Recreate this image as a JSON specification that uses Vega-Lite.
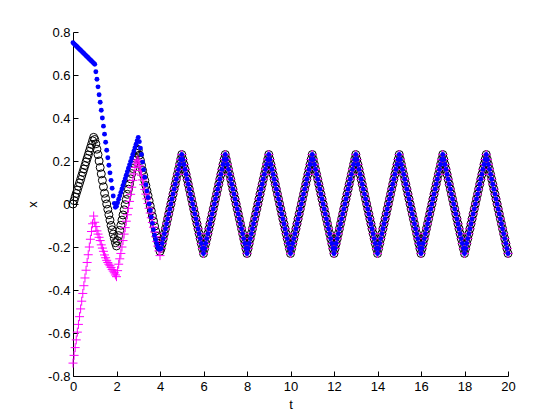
{
"$schema": "https://vega.github.io/schema/vega-lite/v6.json",
"width": 435, "height": 344,
"autosize": {"type": "none"},
"padding": {"left": 73, "top": 32, "right": 52, "bottom": 44},
"background": "white",
"config": {"view": {"stroke": null}, "axis": {"domainColor": "#000", "tickColor": "#000", "labelColor": "#000", "titleColor": "#000", "labelFont": "Liberation Sans", "titleFont": "Liberation Sans", "labelFontSize": 13, "titleFontSize": 13, "titleFontWeight": "normal", "grid": false, "tickSize": -5, "domainWidth": 1, "tickWidth": 1, "labelOverlap": false}},
"data": {"values": [
{"t":0,"k":0,"b":0.75,"m":-0.74},
{"t":0.05,"k":0.016,"b":0.745,"m":-0.704},
{"t":0.1,"k":0.033,"b":0.74,"m":-0.668},
{"t":0.15,"k":0.049,"b":0.735,"m":-0.632},
{"t":0.2,"k":0.065,"b":0.73,"m":-0.596},
{"t":0.25,"k":0.082,"b":0.725,"m":-0.56},
{"t":0.3,"k":0.098,"b":0.72,"m":-0.524},
{"t":0.35,"k":0.114,"b":0.715,"m":-0.488},
{"t":0.4,"k":0.131,"b":0.71,"m":-0.452},
{"t":0.45,"k":0.147,"b":0.705,"m":-0.416},
{"t":0.5,"k":0.163,"b":0.7,"m":-0.38},
{"t":0.55,"k":0.179,"b":0.695,"m":-0.344},
{"t":0.6,"k":0.196,"b":0.69,"m":-0.308},
{"t":0.65,"k":0.212,"b":0.685,"m":-0.272},
{"t":0.7,"k":0.228,"b":0.68,"m":-0.236},
{"t":0.75,"k":0.245,"b":0.675,"m":-0.2},
{"t":0.8,"k":0.261,"b":0.67,"m":-0.164},
{"t":0.85,"k":0.277,"b":0.665,"m":-0.128},
{"t":0.9,"k":0.294,"b":0.66,"m":-0.092},
{"t":0.95,"k":0.31,"b":0.655,"m":-0.056},
{"t":1,"k":0.3,"b":0.65,"m":-0.085},
{"t":1.05,"k":0.28,"b":0.615,"m":-0.105},
{"t":1.1,"k":0.255,"b":0.58,"m":-0.125},
{"t":1.15,"k":0.23,"b":0.545,"m":-0.14},
{"t":1.2,"k":0.2,"b":0.508,"m":-0.155},
{"t":1.25,"k":0.17,"b":0.473,"m":-0.17},
{"t":1.3,"k":0.14,"b":0.436,"m":-0.19},
{"t":1.35,"k":0.11,"b":0.4,"m":-0.205},
{"t":1.4,"k":0.08,"b":0.362,"m":-0.22},
{"t":1.45,"k":0.05,"b":0.325,"m":-0.237},
{"t":1.5,"k":0.025,"b":0.287,"m":-0.25},
{"t":1.55,"k":0,"b":0.25,"m":-0.262},
{"t":1.6,"k":-0.025,"b":0.215,"m":-0.272},
{"t":1.65,"k":-0.05,"b":0.18,"m":-0.28},
{"t":1.7,"k":-0.075,"b":0.145,"m":-0.287},
{"t":1.75,"k":-0.1,"b":0.11,"m":-0.295},
{"t":1.8,"k":-0.12,"b":0.073,"m":-0.305},
{"t":1.85,"k":-0.14,"b":0.037,"m":-0.312},
{"t":1.9,"k":-0.16,"b":0.003,"m":-0.32},
{"t":1.95,"k":-0.18,"b":-0.015,"m":-0.33},
{"t":2,"k":-0.195,"b":-0.01,"m":-0.338},
{"t":2.05,"k":-0.171,"b":0.006,"m":-0.31},
{"t":2.1,"k":-0.147,"b":0.022,"m":-0.28},
{"t":2.15,"k":-0.123,"b":0.038,"m":-0.255},
{"t":2.2,"k":-0.099,"b":0.054,"m":-0.23},
{"t":2.25,"k":-0.075,"b":0.07,"m":-0.2},
{"t":2.3,"k":-0.051,"b":0.086,"m":-0.17},
{"t":2.35,"k":-0.027,"b":0.102,"m":-0.14},
{"t":2.4,"k":-0.003,"b":0.118,"m":-0.11},
{"t":2.45,"k":0.021,"b":0.134,"m":-0.08},
{"t":2.5,"k":0.045,"b":0.15,"m":-0.05},
{"t":2.55,"k":0.069,"b":0.166,"m":-0.02},
{"t":2.6,"k":0.093,"b":0.182,"m":0.012},
{"t":2.65,"k":0.117,"b":0.198,"m":0.045},
{"t":2.7,"k":0.141,"b":0.214,"m":0.078},
{"t":2.75,"k":0.165,"b":0.23,"m":0.11},
{"t":2.8,"k":0.189,"b":0.246,"m":0.14},
{"t":2.85,"k":0.213,"b":0.262,"m":0.17},
{"t":2.9,"k":0.237,"b":0.278,"m":0.19},
{"t":2.95,"k":0.255,"b":0.294,"m":0.205},
{"t":3,"k":0.25,"b":0.31,"m":0.2},
{"t":3.05,"k":0.227,"b":0.29,"m":0.178},
{"t":3.1,"k":0.203,"b":0.26,"m":0.156},
{"t":3.15,"k":0.18,"b":0.23,"m":0.134},
{"t":3.2,"k":0.156,"b":0.195,"m":0.112},
{"t":3.25,"k":0.133,"b":0.16,"m":0.09},
{"t":3.3,"k":0.109,"b":0.125,"m":0.068},
{"t":3.35,"k":0.086,"b":0.09,"m":0.046},
{"t":3.4,"k":0.062,"b":0.06,"m":0.024},
{"t":3.45,"k":0.039,"b":0.03,"m":0.002},
{"t":3.5,"k":0.015,"b":0,"m":-0.02},
{"t":3.55,"k":-0.009,"b":-0.03,"m":-0.042},
{"t":3.6,"k":-0.032,"b":-0.06,"m":-0.064},
{"t":3.65,"k":-0.056,"b":-0.09,"m":-0.086},
{"t":3.7,"k":-0.079,"b":-0.12,"m":-0.108},
{"t":3.75,"k":-0.103,"b":-0.145,"m":-0.13},
{"t":3.8,"k":-0.126,"b":-0.165,"m":-0.152},
{"t":3.85,"k":-0.15,"b":-0.185,"m":-0.174},
{"t":3.9,"k":-0.173,"b":-0.2,"m":-0.196},
{"t":3.95,"k":-0.197,"b":-0.21,"m":-0.218},
{"t":4,"k":-0.22,"b":-0.21,"m":-0.24},
{"t":4.05,"k":-0.207,"b":-0.207,"m":-0.207},
{"t":4.1,"k":-0.184,"b":-0.184,"m":-0.184},
{"t":4.15,"k":-0.161,"b":-0.161,"m":-0.161},
{"t":4.2,"k":-0.138,"b":-0.138,"m":-0.138},
{"t":4.25,"k":-0.115,"b":-0.115,"m":-0.115},
{"t":4.3,"k":-0.092,"b":-0.092,"m":-0.092},
{"t":4.35,"k":-0.069,"b":-0.069,"m":-0.069},
{"t":4.4,"k":-0.046,"b":-0.046,"m":-0.046},
{"t":4.45,"k":-0.023,"b":-0.023,"m":-0.023},
{"t":4.5,"k":0,"b":0,"m":0},
{"t":4.55,"k":0.023,"b":0.023,"m":0.023},
{"t":4.6,"k":0.046,"b":0.046,"m":0.046},
{"t":4.65,"k":0.069,"b":0.069,"m":0.069},
{"t":4.7,"k":0.092,"b":0.092,"m":0.092},
{"t":4.75,"k":0.115,"b":0.115,"m":0.115},
{"t":4.8,"k":0.138,"b":0.138,"m":0.138},
{"t":4.85,"k":0.161,"b":0.161,"m":0.161},
{"t":4.9,"k":0.184,"b":0.184,"m":0.184},
{"t":4.95,"k":0.207,"b":0.207,"m":0.207},
{"t":5,"k":0.23,"b":0.23,"m":0.23},
{"t":5.05,"k":0.207,"b":0.207,"m":0.207},
{"t":5.1,"k":0.184,"b":0.184,"m":0.184},
{"t":5.15,"k":0.161,"b":0.161,"m":0.161},
{"t":5.2,"k":0.138,"b":0.138,"m":0.138},
{"t":5.25,"k":0.115,"b":0.115,"m":0.115},
{"t":5.3,"k":0.092,"b":0.092,"m":0.092},
{"t":5.35,"k":0.069,"b":0.069,"m":0.069},
{"t":5.4,"k":0.046,"b":0.046,"m":0.046},
{"t":5.45,"k":0.023,"b":0.023,"m":0.023},
{"t":5.5,"k":0,"b":0,"m":0},
{"t":5.55,"k":-0.023,"b":-0.023,"m":-0.023},
{"t":5.6,"k":-0.046,"b":-0.046,"m":-0.046},
{"t":5.65,"k":-0.069,"b":-0.069,"m":-0.069},
{"t":5.7,"k":-0.092,"b":-0.092,"m":-0.092},
{"t":5.75,"k":-0.115,"b":-0.115,"m":-0.115},
{"t":5.8,"k":-0.138,"b":-0.138,"m":-0.138},
{"t":5.85,"k":-0.161,"b":-0.161,"m":-0.161},
{"t":5.9,"k":-0.184,"b":-0.184,"m":-0.184},
{"t":5.95,"k":-0.207,"b":-0.207,"m":-0.207},
{"t":6,"k":-0.23,"b":-0.23,"m":-0.23},
{"t":6.05,"k":-0.207,"b":-0.207,"m":-0.207},
{"t":6.1,"k":-0.184,"b":-0.184,"m":-0.184},
{"t":6.15,"k":-0.161,"b":-0.161,"m":-0.161},
{"t":6.2,"k":-0.138,"b":-0.138,"m":-0.138},
{"t":6.25,"k":-0.115,"b":-0.115,"m":-0.115},
{"t":6.3,"k":-0.092,"b":-0.092,"m":-0.092},
{"t":6.35,"k":-0.069,"b":-0.069,"m":-0.069},
{"t":6.4,"k":-0.046,"b":-0.046,"m":-0.046},
{"t":6.45,"k":-0.023,"b":-0.023,"m":-0.023},
{"t":6.5,"k":0,"b":0,"m":0},
{"t":6.55,"k":0.023,"b":0.023,"m":0.023},
{"t":6.6,"k":0.046,"b":0.046,"m":0.046},
{"t":6.65,"k":0.069,"b":0.069,"m":0.069},
{"t":6.7,"k":0.092,"b":0.092,"m":0.092},
{"t":6.75,"k":0.115,"b":0.115,"m":0.115},
{"t":6.8,"k":0.138,"b":0.138,"m":0.138},
{"t":6.85,"k":0.161,"b":0.161,"m":0.161},
{"t":6.9,"k":0.184,"b":0.184,"m":0.184},
{"t":6.95,"k":0.207,"b":0.207,"m":0.207},
{"t":7,"k":0.23,"b":0.23,"m":0.23},
{"t":7.05,"k":0.207,"b":0.207,"m":0.207},
{"t":7.1,"k":0.184,"b":0.184,"m":0.184},
{"t":7.15,"k":0.161,"b":0.161,"m":0.161},
{"t":7.2,"k":0.138,"b":0.138,"m":0.138},
{"t":7.25,"k":0.115,"b":0.115,"m":0.115},
{"t":7.3,"k":0.092,"b":0.092,"m":0.092},
{"t":7.35,"k":0.069,"b":0.069,"m":0.069},
{"t":7.4,"k":0.046,"b":0.046,"m":0.046},
{"t":7.45,"k":0.023,"b":0.023,"m":0.023},
{"t":7.5,"k":0,"b":0,"m":0},
{"t":7.55,"k":-0.023,"b":-0.023,"m":-0.023},
{"t":7.6,"k":-0.046,"b":-0.046,"m":-0.046},
{"t":7.65,"k":-0.069,"b":-0.069,"m":-0.069},
{"t":7.7,"k":-0.092,"b":-0.092,"m":-0.092},
{"t":7.75,"k":-0.115,"b":-0.115,"m":-0.115},
{"t":7.8,"k":-0.138,"b":-0.138,"m":-0.138},
{"t":7.85,"k":-0.161,"b":-0.161,"m":-0.161},
{"t":7.9,"k":-0.184,"b":-0.184,"m":-0.184},
{"t":7.95,"k":-0.207,"b":-0.207,"m":-0.207},
{"t":8,"k":-0.23,"b":-0.23,"m":-0.23},
{"t":8.05,"k":-0.207,"b":-0.207,"m":-0.207},
{"t":8.1,"k":-0.184,"b":-0.184,"m":-0.184},
{"t":8.15,"k":-0.161,"b":-0.161,"m":-0.161},
{"t":8.2,"k":-0.138,"b":-0.138,"m":-0.138},
{"t":8.25,"k":-0.115,"b":-0.115,"m":-0.115},
{"t":8.3,"k":-0.092,"b":-0.092,"m":-0.092},
{"t":8.35,"k":-0.069,"b":-0.069,"m":-0.069},
{"t":8.4,"k":-0.046,"b":-0.046,"m":-0.046},
{"t":8.45,"k":-0.023,"b":-0.023,"m":-0.023},
{"t":8.5,"k":0,"b":0,"m":0},
{"t":8.55,"k":0.023,"b":0.023,"m":0.023},
{"t":8.6,"k":0.046,"b":0.046,"m":0.046},
{"t":8.65,"k":0.069,"b":0.069,"m":0.069},
{"t":8.7,"k":0.092,"b":0.092,"m":0.092},
{"t":8.75,"k":0.115,"b":0.115,"m":0.115},
{"t":8.8,"k":0.138,"b":0.138,"m":0.138},
{"t":8.85,"k":0.161,"b":0.161,"m":0.161},
{"t":8.9,"k":0.184,"b":0.184,"m":0.184},
{"t":8.95,"k":0.207,"b":0.207,"m":0.207},
{"t":9,"k":0.23,"b":0.23,"m":0.23},
{"t":9.05,"k":0.207,"b":0.207,"m":0.207},
{"t":9.1,"k":0.184,"b":0.184,"m":0.184},
{"t":9.15,"k":0.161,"b":0.161,"m":0.161},
{"t":9.2,"k":0.138,"b":0.138,"m":0.138},
{"t":9.25,"k":0.115,"b":0.115,"m":0.115},
{"t":9.3,"k":0.092,"b":0.092,"m":0.092},
{"t":9.35,"k":0.069,"b":0.069,"m":0.069},
{"t":9.4,"k":0.046,"b":0.046,"m":0.046},
{"t":9.45,"k":0.023,"b":0.023,"m":0.023},
{"t":9.5,"k":0,"b":0,"m":0},
{"t":9.55,"k":-0.023,"b":-0.023,"m":-0.023},
{"t":9.6,"k":-0.046,"b":-0.046,"m":-0.046},
{"t":9.65,"k":-0.069,"b":-0.069,"m":-0.069},
{"t":9.7,"k":-0.092,"b":-0.092,"m":-0.092},
{"t":9.75,"k":-0.115,"b":-0.115,"m":-0.115},
{"t":9.8,"k":-0.138,"b":-0.138,"m":-0.138},
{"t":9.85,"k":-0.161,"b":-0.161,"m":-0.161},
{"t":9.9,"k":-0.184,"b":-0.184,"m":-0.184},
{"t":9.95,"k":-0.207,"b":-0.207,"m":-0.207},
{"t":10,"k":-0.23,"b":-0.23,"m":-0.23},
{"t":10.05,"k":-0.207,"b":-0.207,"m":-0.207},
{"t":10.1,"k":-0.184,"b":-0.184,"m":-0.184},
{"t":10.15,"k":-0.161,"b":-0.161,"m":-0.161},
{"t":10.2,"k":-0.138,"b":-0.138,"m":-0.138},
{"t":10.25,"k":-0.115,"b":-0.115,"m":-0.115},
{"t":10.3,"k":-0.092,"b":-0.092,"m":-0.092},
{"t":10.35,"k":-0.069,"b":-0.069,"m":-0.069},
{"t":10.4,"k":-0.046,"b":-0.046,"m":-0.046},
{"t":10.45,"k":-0.023,"b":-0.023,"m":-0.023},
{"t":10.5,"k":0,"b":0,"m":0},
{"t":10.55,"k":0.023,"b":0.023,"m":0.023},
{"t":10.6,"k":0.046,"b":0.046,"m":0.046},
{"t":10.65,"k":0.069,"b":0.069,"m":0.069},
{"t":10.7,"k":0.092,"b":0.092,"m":0.092},
{"t":10.75,"k":0.115,"b":0.115,"m":0.115},
{"t":10.8,"k":0.138,"b":0.138,"m":0.138},
{"t":10.85,"k":0.161,"b":0.161,"m":0.161},
{"t":10.9,"k":0.184,"b":0.184,"m":0.184},
{"t":10.95,"k":0.207,"b":0.207,"m":0.207},
{"t":11,"k":0.23,"b":0.23,"m":0.23},
{"t":11.05,"k":0.207,"b":0.207,"m":0.207},
{"t":11.1,"k":0.184,"b":0.184,"m":0.184},
{"t":11.15,"k":0.161,"b":0.161,"m":0.161},
{"t":11.2,"k":0.138,"b":0.138,"m":0.138},
{"t":11.25,"k":0.115,"b":0.115,"m":0.115},
{"t":11.3,"k":0.092,"b":0.092,"m":0.092},
{"t":11.35,"k":0.069,"b":0.069,"m":0.069},
{"t":11.4,"k":0.046,"b":0.046,"m":0.046},
{"t":11.45,"k":0.023,"b":0.023,"m":0.023},
{"t":11.5,"k":0,"b":0,"m":0},
{"t":11.55,"k":-0.023,"b":-0.023,"m":-0.023},
{"t":11.6,"k":-0.046,"b":-0.046,"m":-0.046},
{"t":11.65,"k":-0.069,"b":-0.069,"m":-0.069},
{"t":11.7,"k":-0.092,"b":-0.092,"m":-0.092},
{"t":11.75,"k":-0.115,"b":-0.115,"m":-0.115},
{"t":11.8,"k":-0.138,"b":-0.138,"m":-0.138},
{"t":11.85,"k":-0.161,"b":-0.161,"m":-0.161},
{"t":11.9,"k":-0.184,"b":-0.184,"m":-0.184},
{"t":11.95,"k":-0.207,"b":-0.207,"m":-0.207},
{"t":12,"k":-0.23,"b":-0.23,"m":-0.23},
{"t":12.05,"k":-0.207,"b":-0.207,"m":-0.207},
{"t":12.1,"k":-0.184,"b":-0.184,"m":-0.184},
{"t":12.15,"k":-0.161,"b":-0.161,"m":-0.161},
{"t":12.2,"k":-0.138,"b":-0.138,"m":-0.138},
{"t":12.25,"k":-0.115,"b":-0.115,"m":-0.115},
{"t":12.3,"k":-0.092,"b":-0.092,"m":-0.092},
{"t":12.35,"k":-0.069,"b":-0.069,"m":-0.069},
{"t":12.4,"k":-0.046,"b":-0.046,"m":-0.046},
{"t":12.45,"k":-0.023,"b":-0.023,"m":-0.023},
{"t":12.5,"k":0,"b":0,"m":0},
{"t":12.55,"k":0.023,"b":0.023,"m":0.023},
{"t":12.6,"k":0.046,"b":0.046,"m":0.046},
{"t":12.65,"k":0.069,"b":0.069,"m":0.069},
{"t":12.7,"k":0.092,"b":0.092,"m":0.092},
{"t":12.75,"k":0.115,"b":0.115,"m":0.115},
{"t":12.8,"k":0.138,"b":0.138,"m":0.138},
{"t":12.85,"k":0.161,"b":0.161,"m":0.161},
{"t":12.9,"k":0.184,"b":0.184,"m":0.184},
{"t":12.95,"k":0.207,"b":0.207,"m":0.207},
{"t":13,"k":0.23,"b":0.23,"m":0.23},
{"t":13.05,"k":0.207,"b":0.207,"m":0.207},
{"t":13.1,"k":0.184,"b":0.184,"m":0.184},
{"t":13.15,"k":0.161,"b":0.161,"m":0.161},
{"t":13.2,"k":0.138,"b":0.138,"m":0.138},
{"t":13.25,"k":0.115,"b":0.115,"m":0.115},
{"t":13.3,"k":0.092,"b":0.092,"m":0.092},
{"t":13.35,"k":0.069,"b":0.069,"m":0.069},
{"t":13.4,"k":0.046,"b":0.046,"m":0.046},
{"t":13.45,"k":0.023,"b":0.023,"m":0.023},
{"t":13.5,"k":0,"b":0,"m":0},
{"t":13.55,"k":-0.023,"b":-0.023,"m":-0.023},
{"t":13.6,"k":-0.046,"b":-0.046,"m":-0.046},
{"t":13.65,"k":-0.069,"b":-0.069,"m":-0.069},
{"t":13.7,"k":-0.092,"b":-0.092,"m":-0.092},
{"t":13.75,"k":-0.115,"b":-0.115,"m":-0.115},
{"t":13.8,"k":-0.138,"b":-0.138,"m":-0.138},
{"t":13.85,"k":-0.161,"b":-0.161,"m":-0.161},
{"t":13.9,"k":-0.184,"b":-0.184,"m":-0.184},
{"t":13.95,"k":-0.207,"b":-0.207,"m":-0.207},
{"t":14,"k":-0.23,"b":-0.23,"m":-0.23},
{"t":14.05,"k":-0.207,"b":-0.207,"m":-0.207},
{"t":14.1,"k":-0.184,"b":-0.184,"m":-0.184},
{"t":14.15,"k":-0.161,"b":-0.161,"m":-0.161},
{"t":14.2,"k":-0.138,"b":-0.138,"m":-0.138},
{"t":14.25,"k":-0.115,"b":-0.115,"m":-0.115},
{"t":14.3,"k":-0.092,"b":-0.092,"m":-0.092},
{"t":14.35,"k":-0.069,"b":-0.069,"m":-0.069},
{"t":14.4,"k":-0.046,"b":-0.046,"m":-0.046},
{"t":14.45,"k":-0.023,"b":-0.023,"m":-0.023},
{"t":14.5,"k":0,"b":0,"m":0},
{"t":14.55,"k":0.023,"b":0.023,"m":0.023},
{"t":14.6,"k":0.046,"b":0.046,"m":0.046},
{"t":14.65,"k":0.069,"b":0.069,"m":0.069},
{"t":14.7,"k":0.092,"b":0.092,"m":0.092},
{"t":14.75,"k":0.115,"b":0.115,"m":0.115},
{"t":14.8,"k":0.138,"b":0.138,"m":0.138},
{"t":14.85,"k":0.161,"b":0.161,"m":0.161},
{"t":14.9,"k":0.184,"b":0.184,"m":0.184},
{"t":14.95,"k":0.207,"b":0.207,"m":0.207},
{"t":15,"k":0.23,"b":0.23,"m":0.23},
{"t":15.05,"k":0.207,"b":0.207,"m":0.207},
{"t":15.1,"k":0.184,"b":0.184,"m":0.184},
{"t":15.15,"k":0.161,"b":0.161,"m":0.161},
{"t":15.2,"k":0.138,"b":0.138,"m":0.138},
{"t":15.25,"k":0.115,"b":0.115,"m":0.115},
{"t":15.3,"k":0.092,"b":0.092,"m":0.092},
{"t":15.35,"k":0.069,"b":0.069,"m":0.069},
{"t":15.4,"k":0.046,"b":0.046,"m":0.046},
{"t":15.45,"k":0.023,"b":0.023,"m":0.023},
{"t":15.5,"k":0,"b":0,"m":0},
{"t":15.55,"k":-0.023,"b":-0.023,"m":-0.023},
{"t":15.6,"k":-0.046,"b":-0.046,"m":-0.046},
{"t":15.65,"k":-0.069,"b":-0.069,"m":-0.069},
{"t":15.7,"k":-0.092,"b":-0.092,"m":-0.092},
{"t":15.75,"k":-0.115,"b":-0.115,"m":-0.115},
{"t":15.8,"k":-0.138,"b":-0.138,"m":-0.138},
{"t":15.85,"k":-0.161,"b":-0.161,"m":-0.161},
{"t":15.9,"k":-0.184,"b":-0.184,"m":-0.184},
{"t":15.95,"k":-0.207,"b":-0.207,"m":-0.207},
{"t":16,"k":-0.23,"b":-0.23,"m":-0.23},
{"t":16.05,"k":-0.207,"b":-0.207,"m":-0.207},
{"t":16.1,"k":-0.184,"b":-0.184,"m":-0.184},
{"t":16.15,"k":-0.161,"b":-0.161,"m":-0.161},
{"t":16.2,"k":-0.138,"b":-0.138,"m":-0.138},
{"t":16.25,"k":-0.115,"b":-0.115,"m":-0.115},
{"t":16.3,"k":-0.092,"b":-0.092,"m":-0.092},
{"t":16.35,"k":-0.069,"b":-0.069,"m":-0.069},
{"t":16.4,"k":-0.046,"b":-0.046,"m":-0.046},
{"t":16.45,"k":-0.023,"b":-0.023,"m":-0.023},
{"t":16.5,"k":0,"b":0,"m":0},
{"t":16.55,"k":0.023,"b":0.023,"m":0.023},
{"t":16.6,"k":0.046,"b":0.046,"m":0.046},
{"t":16.65,"k":0.069,"b":0.069,"m":0.069},
{"t":16.7,"k":0.092,"b":0.092,"m":0.092},
{"t":16.75,"k":0.115,"b":0.115,"m":0.115},
{"t":16.8,"k":0.138,"b":0.138,"m":0.138},
{"t":16.85,"k":0.161,"b":0.161,"m":0.161},
{"t":16.9,"k":0.184,"b":0.184,"m":0.184},
{"t":16.95,"k":0.207,"b":0.207,"m":0.207},
{"t":17,"k":0.23,"b":0.23,"m":0.23},
{"t":17.05,"k":0.207,"b":0.207,"m":0.207},
{"t":17.1,"k":0.184,"b":0.184,"m":0.184},
{"t":17.15,"k":0.161,"b":0.161,"m":0.161},
{"t":17.2,"k":0.138,"b":0.138,"m":0.138},
{"t":17.25,"k":0.115,"b":0.115,"m":0.115},
{"t":17.3,"k":0.092,"b":0.092,"m":0.092},
{"t":17.35,"k":0.069,"b":0.069,"m":0.069},
{"t":17.4,"k":0.046,"b":0.046,"m":0.046},
{"t":17.45,"k":0.023,"b":0.023,"m":0.023},
{"t":17.5,"k":0,"b":0,"m":0},
{"t":17.55,"k":-0.023,"b":-0.023,"m":-0.023},
{"t":17.6,"k":-0.046,"b":-0.046,"m":-0.046},
{"t":17.65,"k":-0.069,"b":-0.069,"m":-0.069},
{"t":17.7,"k":-0.092,"b":-0.092,"m":-0.092},
{"t":17.75,"k":-0.115,"b":-0.115,"m":-0.115},
{"t":17.8,"k":-0.138,"b":-0.138,"m":-0.138},
{"t":17.85,"k":-0.161,"b":-0.161,"m":-0.161},
{"t":17.9,"k":-0.184,"b":-0.184,"m":-0.184},
{"t":17.95,"k":-0.207,"b":-0.207,"m":-0.207},
{"t":18,"k":-0.23,"b":-0.23,"m":-0.23},
{"t":18.05,"k":-0.207,"b":-0.207,"m":-0.207},
{"t":18.1,"k":-0.184,"b":-0.184,"m":-0.184},
{"t":18.15,"k":-0.161,"b":-0.161,"m":-0.161},
{"t":18.2,"k":-0.138,"b":-0.138,"m":-0.138},
{"t":18.25,"k":-0.115,"b":-0.115,"m":-0.115},
{"t":18.3,"k":-0.092,"b":-0.092,"m":-0.092},
{"t":18.35,"k":-0.069,"b":-0.069,"m":-0.069},
{"t":18.4,"k":-0.046,"b":-0.046,"m":-0.046},
{"t":18.45,"k":-0.023,"b":-0.023,"m":-0.023},
{"t":18.5,"k":0,"b":0,"m":0},
{"t":18.55,"k":0.023,"b":0.023,"m":0.023},
{"t":18.6,"k":0.046,"b":0.046,"m":0.046},
{"t":18.65,"k":0.069,"b":0.069,"m":0.069},
{"t":18.7,"k":0.092,"b":0.092,"m":0.092},
{"t":18.75,"k":0.115,"b":0.115,"m":0.115},
{"t":18.8,"k":0.138,"b":0.138,"m":0.138},
{"t":18.85,"k":0.161,"b":0.161,"m":0.161},
{"t":18.9,"k":0.184,"b":0.184,"m":0.184},
{"t":18.95,"k":0.207,"b":0.207,"m":0.207},
{"t":19,"k":0.23,"b":0.23,"m":0.23},
{"t":19.05,"k":0.207,"b":0.207,"m":0.207},
{"t":19.1,"k":0.184,"b":0.184,"m":0.184},
{"t":19.15,"k":0.161,"b":0.161,"m":0.161},
{"t":19.2,"k":0.138,"b":0.138,"m":0.138},
{"t":19.25,"k":0.115,"b":0.115,"m":0.115},
{"t":19.3,"k":0.092,"b":0.092,"m":0.092},
{"t":19.35,"k":0.069,"b":0.069,"m":0.069},
{"t":19.4,"k":0.046,"b":0.046,"m":0.046},
{"t":19.45,"k":0.023,"b":0.023,"m":0.023},
{"t":19.5,"k":0,"b":0,"m":0},
{"t":19.55,"k":-0.023,"b":-0.023,"m":-0.023},
{"t":19.6,"k":-0.046,"b":-0.046,"m":-0.046},
{"t":19.65,"k":-0.069,"b":-0.069,"m":-0.069},
{"t":19.7,"k":-0.092,"b":-0.092,"m":-0.092},
{"t":19.75,"k":-0.115,"b":-0.115,"m":-0.115},
{"t":19.8,"k":-0.138,"b":-0.138,"m":-0.138},
{"t":19.85,"k":-0.161,"b":-0.161,"m":-0.161},
{"t":19.9,"k":-0.184,"b":-0.184,"m":-0.184},
{"t":19.95,"k":-0.207,"b":-0.207,"m":-0.207},
{"t":20,"k":-0.23,"b":-0.23,"m":-0.23}
]},
"transform": [{"fold": ["k", "m", "b"], "as": ["s", "v"]}],
"encoding": {
  "x": {"field": "t", "type": "quantitative", "scale": {"domain": [0, 20], "nice": false, "zero": false},
        "axis": {"values": [0,2,4,6,8,10,12,14,16,18,20], "title": "t", "labelPadding": 9, "titlePadding": 5, "labelFlush": false}},
  "y": {"field": "v", "type": "quantitative", "scale": {"domain": [-0.8, 0.8], "nice": false, "zero": false},
        "axis": {"values": [-0.8,-0.6,-0.4,-0.2,0,0.2,0.4,0.6,0.8], "title": "x", "labelPadding": 8, "titlePadding": 8,
                 "labelExpr": "datum.value == 0 ? '0' : (datum.value < 0 ? '-' : '') + format(abs(datum.value), '.1f')"}}
},
"layer": [
  {"transform": [{"filter": {"field": "s", "equal": "k"}}],
   "mark": {"type": "point", "shape": "circle", "filled": false, "stroke": "#000000", "strokeWidth": 1, "size": 64, "opacity": 1}},
  {"transform": [{"filter": {"field": "s", "equal": "m"}}],
   "mark": {"type": "point", "shape": "M-1,0L1,0M0,-1L0,1", "filled": false, "stroke": "#ff00ff", "strokeWidth": 1, "size": 81, "opacity": 1}},
  {"transform": [{"filter": {"field": "s", "equal": "b"}}],
   "mark": {"type": "point", "shape": "circle", "filled": true, "fill": "#0000ff", "strokeWidth": 0, "size": 24, "opacity": 1}}
]
}
